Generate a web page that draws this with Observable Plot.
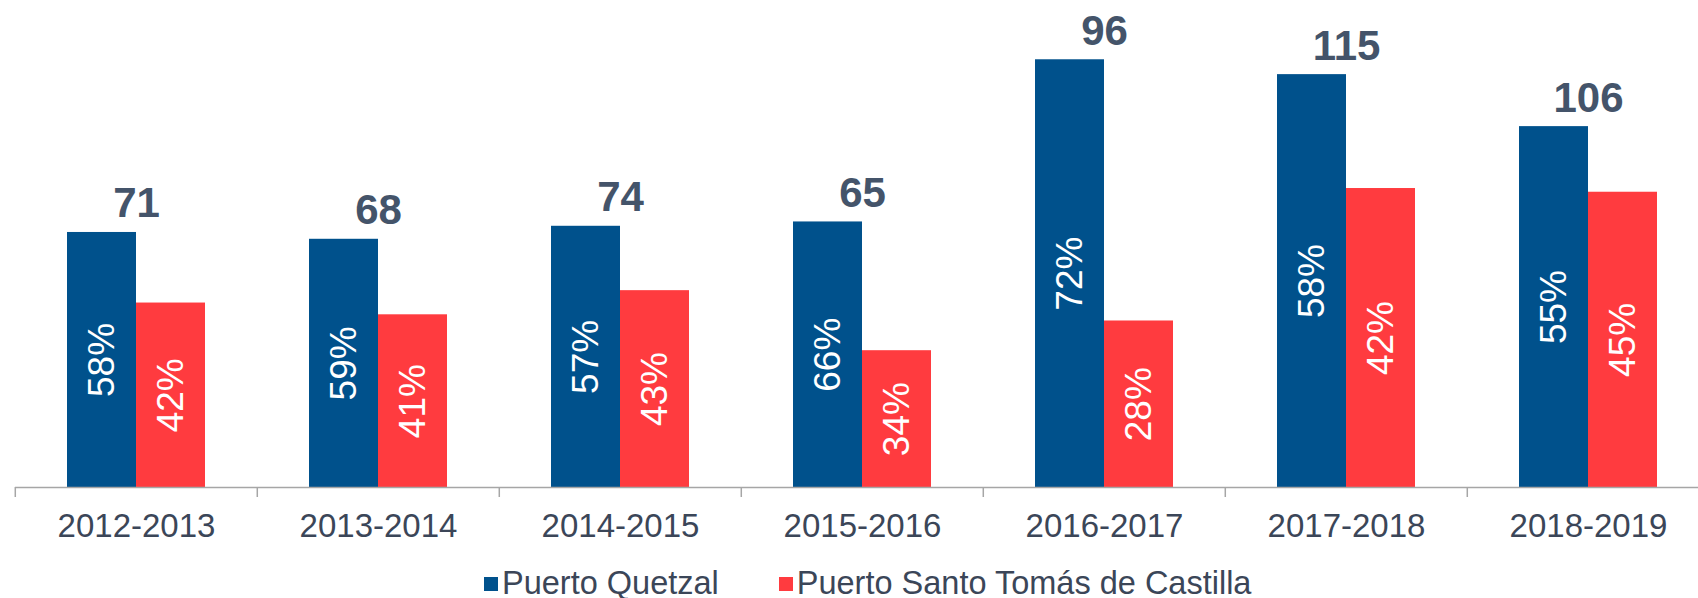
<!DOCTYPE html>
<html>
<head>
<meta charset="utf-8">
<script src="https://cdn.jsdelivr.net/npm/d3@7"></script>
<script src="https://cdn.jsdelivr.net/npm/@observablehq/plot@0.6"></script>
<style>
  html, body { margin: 0; padding: 0; background: #fff; overflow: hidden; width: 1698px; height: 598px; position: relative; }
  #chart svg { display: block; max-width: none !important; }
  #legend {
    position: absolute; left: 484px; top: 570px;
    display: flex; align-items: center; white-space: nowrap;
    font-family: "Liberation Sans", Arial, sans-serif; font-size: 32.5px; line-height: 27px; color: #3B4658;
  }
  #legend .sw { display: inline-block; width: 14px; height: 14px; }
  #legend .lbl { margin-left: 4px; }
  #legend .item + .item { margin-left: 60px; }
  #legend .item { display: flex; align-items: center; }
</style>
</head>
<body>
<div id="chart"></div>
<div id="legend"></div>
<script>
const periods = ["2012-2013", "2013-2014", "2014-2015", "2015-2016", "2016-2017", "2017-2018", "2018-2019"];
const totals = [71, 68, 74, 65, 96, 115, 106];
const seriesNames = ["Puerto Quetzal", "Puerto Santo Tomás de Castilla"];
const quetzalShare = [58, 59, 57, 66, 72, 58, 55];
const santoTomasShare = [42, 41, 43, 34, 28, 42, 45];
const quetzalValues = [41.2, 40.1, 42.2, 42.9, 69.1, 66.7, 58.3];
const santoTomasValues = [29.8, 27.9, 31.8, 22.1, 26.9, 48.3, 47.7];
const seriesColors = ["#00518C", "#FF3B3F"];

const rows = [];
periods.forEach((p, i) => {
  rows.push({period: p, series: seriesNames[0], value: quetzalValues[i], share: quetzalShare[i]});
  rows.push({period: p, series: seriesNames[1], value: santoTomasValues[i], share: santoTomasShare[i]});
});
const totalRows = periods.map((p, i) => ({period: p, total: totals[i], top: quetzalValues[i]}));

const font = '"Liberation Sans", Arial, sans-serif';
const W = 1710, H = 560, ML = 13, MB = 73;
const band = (W - ML) / periods.length;

const chart = Plot.plot({
  width: W,
  height: H,
  marginLeft: ML,
  marginRight: 0,
  marginTop: 0,
  marginBottom: MB,
  style: {fontFamily: font, background: "white", overflow: "visible", maxWidth: "none"},
  fx: {domain: periods, padding: 0, axis: null},
  x: {domain: seriesNames, paddingInner: 0, paddingOuter: 0.75, axis: null},
  y: {domain: [0, (H - MB) / 6.19], axis: null},
  color: {domain: seriesNames, range: seriesColors},
  marks: [
    Plot.barY(rows, {fx: "period", x: "series", y: "value", fill: "series"}),
    Plot.ruleY([0], {stroke: "#A6A6A6", strokeWidth: 1.5}),
    Plot.ruleX(periods, {fx: d => d, x: null, dx: -band / 2, insetTop: H - MB, insetBottom: -10, stroke: "#A6A6A6", strokeWidth: 1.5}),
    Plot.axisFx({anchor: "bottom", tickSize: 0, tickPadding: 26, fontSize: 33, fill: "#3B4658", label: null}),
    Plot.text(rows, {
      fx: "period", x: "series", y: d => d.value / 2,
      text: d => d.share + "%", rotate: -90,
      fill: "white", fontSize: 37, textAnchor: "middle", lineAnchor: "middle"
    }),
    Plot.text(totalRows, {
      fx: "period", y: "top", text: d => String(d.total),
      dy: -15, lineAnchor: "bottom", textAnchor: "middle",
      fontSize: 42, fontWeight: "bold", fill: "#44546A"
    })
  ]
});
document.getElementById("chart").appendChild(chart);

const legend = document.getElementById("legend");
seriesNames.forEach((name, i) => {
  const item = document.createElement("span");
  item.className = "item";
  const sw = document.createElement("span");
  sw.className = "sw";
  sw.style.background = seriesColors[i];
  const lbl = document.createElement("span");
  lbl.className = "lbl";
  lbl.textContent = name;
  item.appendChild(sw);
  item.appendChild(lbl);
  legend.appendChild(item);
});
</script>
</body>
</html>
